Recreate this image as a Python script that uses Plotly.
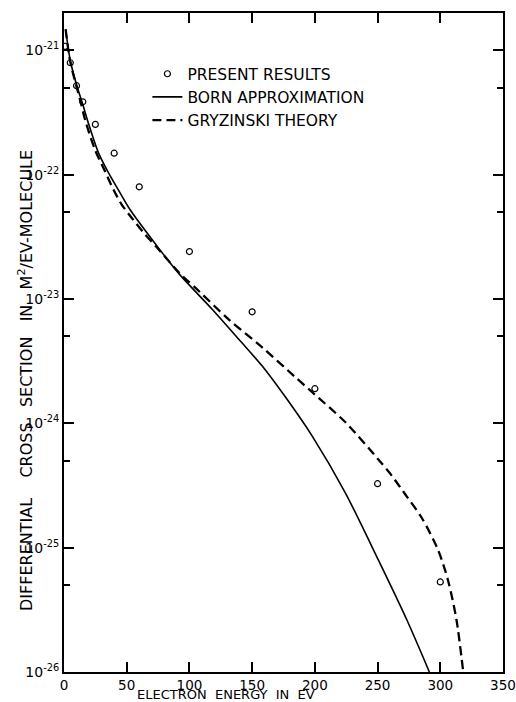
import plotly.graph_objects as go

# Present results (measured points)
exp_energy = [1, 5, 10, 15, 25, 40, 60, 100, 150, 200, 250, 300]
exp_sigma = [1.08e-21, 7.96e-22, 5.2e-22, 3.86e-22, 2.54e-22, 1.49e-22,
             8.0e-23, 2.41e-23, 7.9e-24, 1.9e-24, 3.27e-25, 5.3e-26]

# Born approximation (solid)
born_energy = [1.3, 5, 10.1, 14.8, 19.6, 27.5, 35.5, 44.7, 52.6, 76.2, 92.1,
               118.5, 139.7, 158.2, 176.7, 197.9, 224.4, 250.8, 273.3, 291.3]
born_sigma = [1.48e-21, 8.3e-22, 5.25e-22, 3.72e-22, 2.57e-22, 1.5e-22,
              1.035e-22, 7.15e-23, 5.25e-23, 2.51e-23, 1.58e-23, 8.2e-24,
              4.7e-24, 2.88e-24, 1.62e-24, 7.9e-25, 2.75e-25, 7.9e-26,
              2.63e-26, 1.0e-26]

# Gryzinski theory (dashed)
gry_energy = [1.3, 5, 12.9, 16.9, 24.8, 32.8, 39.4, 46.0, 55.0, 62.9, 73.6,
              92.1, 107.9, 131.7, 158.2, 184.7, 197.9, 224.4, 250.8, 261.3,
              272, 285.2, 298.4, 306.3, 312.9, 318.3]
gry_sigma = [1.48e-21, 8.1e-22, 3.98e-22, 2.75e-22, 1.58e-22, 1.06e-22,
             7.6e-23, 5.75e-23, 4.37e-23, 3.47e-23, 2.63e-23, 1.62e-23,
             1.15e-23, 6.8e-24, 4.07e-24, 2.34e-24, 1.78e-24, 1.02e-24,
             5.1e-25, 3.8e-25, 2.69e-25, 1.74e-25, 9.5e-26, 5.4e-26,
             2.63e-26, 1.0e-26]

x_ticks = [0, 50, 100, 150, 200, 250, 300, 350]
y_ticks = [1e-26, 1e-25, 1e-24, 1e-23, 1e-22, 1e-21]
y_ticktext = ["10<sup>-26</sup>", "10<sup>-25</sup>", "10<sup>-24</sup>",
              "10<sup>-23</sup>", "10<sup>-22</sup>", "10<sup>-21</sup>"]
y_minor = [5e-26, 5e-25, 5e-24, 5e-23, 5e-22]

FONT = "DejaVu Sans"

fig = go.Figure()
fig.add_trace(go.Scatter(
    x=exp_energy, y=exp_sigma, mode="markers", name="PRESENT RESULTS",
    marker=dict(symbol="circle-open", size=6, color="black", line=dict(width=1.2)),
))
fig.add_trace(go.Scatter(
    x=born_energy, y=born_sigma, mode="lines", name="BORN APPROXIMATION",
    line=dict(color="black", width=1.6, shape="spline", smoothing=0.8),
))
fig.add_trace(go.Scatter(
    x=gry_energy, y=gry_sigma, mode="lines", name="GRYZINSKI THEORY",
    line=dict(color="black", width=2.3, dash="9px,5px", shape="spline", smoothing=0.8),
))

fig.update_layout(
    width=516, height=702,
    margin=dict(l=64, r=13, t=13, b=30),
    paper_bgcolor="white", plot_bgcolor="white",
    font=dict(family=FONT, size=14, color="black"),
    showlegend=True,
    legend=dict(x=0.19, y=0.933, xanchor="left", yanchor="top",
                bgcolor="rgba(0,0,0,0)", font=dict(family=FONT, size=15.5),
                tracegroupgap=0, itemwidth=30),
    xaxis=dict(
        range=[0, 350], tickvals=x_ticks, ticks="inside", ticklen=10,
        tickwidth=1.5, tickcolor="black", showline=True, linewidth=2,
        linecolor="black", mirror="ticks", showgrid=False, zeroline=False,
        tickfont=dict(size=13.5), automargin=False, ticklabeloverflow="allow",
    ),
    yaxis=dict(
        type="log", range=[-26, -20.699], tickvals=y_ticks, ticktext=y_ticktext,
        ticks="inside", ticklen=10, tickwidth=1.5, tickcolor="black",
        showline=True, linewidth=2, linecolor="black", mirror="ticks",
        showgrid=False, zeroline=False, tickfont=dict(size=14), automargin=False,
        minor=dict(tickvals=y_minor, ticks="inside", ticklen=6, tickwidth=1.5,
                   tickcolor="black", showgrid=False),
    ),
)

fig.add_annotation(
    text="ELECTRON  ENERGY  IN  EV", xref="paper", yref="paper",
    x=(226 - 64) / 439, y=-0.0349, xanchor="center", yanchor="middle",
    showarrow=False, font=dict(family=FONT, size=13), borderpad=0,
)
fig.add_annotation(
    text="DIFFERENTIAL    CROSS   SECTION   IN   M<sup>2</sup>/EV-MOLECULE",
    xref="paper", yref="paper", x=(25 - 64) / 439, y=(672 - 381) / 659,
    xanchor="center", yanchor="middle", textangle=-90, showarrow=False,
    font=dict(family=FONT, size=16),
)

fig.write_html("out.html", config={"displayModeBar": False},
               post_script="document.body.style.margin='0px';")
